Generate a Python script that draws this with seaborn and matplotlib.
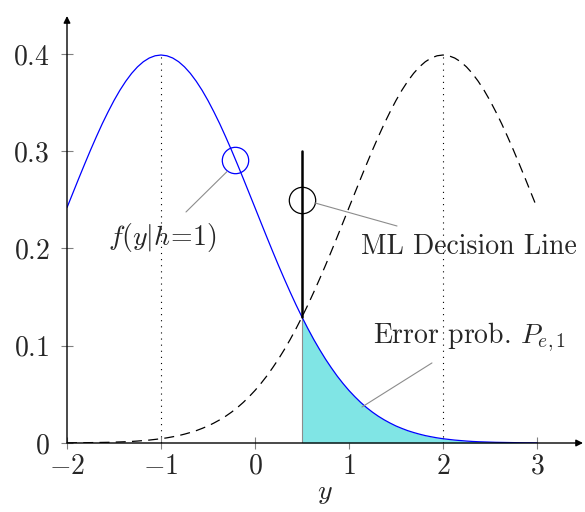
import numpy as np
import pandas as pd
import matplotlib
matplotlib.use("Agg")
import matplotlib.pyplot as plt
import seaborn as sns

# ---- data ----
y_grid = np.linspace(-2, 3, 81)
f_h1 = [0.2420, 0.2570, 0.2720, 0.2867, 0.3011, 0.3149, 0.3282, 0.3405, 0.3521,
        0.3626, 0.3719, 0.3800, 0.3867, 0.3920, 0.3958, 0.3981, 0.3989,
        0.3981, 0.3958, 0.3920, 0.3867, 0.3800, 0.3719, 0.3626, 0.3521,
        0.3405, 0.3282, 0.3149, 0.3011, 0.2867, 0.2720, 0.2570, 0.2420,
        0.2269, 0.2119, 0.1971, 0.1826, 0.1686, 0.1550, 0.1419, 0.1295,
        0.1177, 0.1065, 0.0961, 0.0863, 0.0773, 0.0688, 0.0611, 0.0540,
        0.0476, 0.0417, 0.0364, 0.0317, 0.0275, 0.0238, 0.0205, 0.0175,
        0.0150, 0.0127, 0.0108, 0.0091, 0.0076, 0.0064, 0.0053, 0.0044,
        0.0037, 0.0030, 0.0025, 0.0020, 0.0016, 0.0013, 0.0011, 0.0009,
        0.0007, 0.0006, 0.0005, 0.0004, 0.0003, 0.0002, 0.0002, 0.0001]
f_h2 = [0.0001, 0.0002, 0.0002, 0.0003, 0.0004, 0.0005, 0.0006, 0.0007,
        0.0009, 0.0011, 0.0013, 0.0016, 0.0020, 0.0025, 0.0030, 0.0037,
        0.0044, 0.0053, 0.0064, 0.0076, 0.0091, 0.0108, 0.0127, 0.0150,
        0.0175, 0.0205, 0.0238, 0.0275, 0.0317, 0.0364, 0.0417, 0.0476,
        0.0540, 0.0611, 0.0688, 0.0773, 0.0863, 0.0961, 0.1065, 0.1177,
        0.1295, 0.1419, 0.1550, 0.1686, 0.1826, 0.1971, 0.2119, 0.2269,
        0.2420, 0.2570, 0.2720, 0.2867, 0.3011, 0.3149, 0.3282, 0.3405,
        0.3521, 0.3626, 0.3719, 0.3800, 0.3867, 0.3920, 0.3958, 0.3981,
        0.3989, 0.3981, 0.3958, 0.3920, 0.3867, 0.3800, 0.3719, 0.3626,
        0.3521, 0.3405, 0.3282, 0.3149, 0.3011, 0.2867, 0.2720, 0.2570, 0.2420]
means = [-1, 2]
peak = 0.3989
threshold = 0.5
decision_top = 0.30
x_ticks = [-2, -1, 0, 1, 2, 3]
x_tick_labels = ["$-2$", "$-1$", "$0$", "$1$", "$2$", "$3$"]
y_ticks = [0, 0.1, 0.2, 0.3, 0.4]
y_tick_labels = ["$0$", "$0.1$", "$0.2$", "$0.3$", "$0.4$"]

df = pd.DataFrame({"y": y_grid, "f1": f_h1, "f2": f_h2})

sns.set_style("white")
plt.rcParams["font.family"] = ["cmr10", "DejaVu Serif"]
plt.rcParams["mathtext.fontset"] = "cm"
plt.rcParams["axes.unicode_minus"] = False
FS = 20

fig = plt.figure(figsize=(5.85, 5.12), dpi=100)
ax = fig.add_axes([67/585, 69/512, (583-67)/585, (443-16)/512])
ax.set_xlim(-2, 3.49)
ax.set_ylim(0, 0.439)

# fill
mask = df["y"] >= threshold - 1e-9
ax.fill_between(df["y"][mask], 0, df["f1"][mask], color="#80e5e5", lw=0, zorder=1)
ax.plot([threshold, threshold], [0, df["f1"][mask].iloc[0]], color="0.55", lw=0.8, zorder=2)

sns.lineplot(data=df, x="y", y="f1", ax=ax, color="blue", lw=0.9, zorder=3)
sns.lineplot(data=df, x="y", y="f2", ax=ax, color="black", lw=0.9,
             linestyle=(0, (8, 5)), zorder=3)

for m in means:
    ax.plot([m, m], [0, peak], color="black", lw=0.8, linestyle=(0, (1, 4.5)), zorder=2)

# decision line
ax.plot([threshold, threshold], [df["f1"][mask].iloc[0], decision_top],
        color="black", lw=1.8, zorder=4)

# circles
ax.plot([-0.213], [0.291], marker="o", ms=19, mfc="none", mec="blue", mew=0.9, zorder=5)
ax.plot([0.5], [0.25], marker="o", ms=19, mfc="none", mec="black", mew=0.9, zorder=5)

# annotation lines
ax.plot([-0.298, -0.734], [0.279, 0.2375], color="0.55", lw=0.8, zorder=5)
ax.plot([0.638, 1.511], [0.2468, 0.2231], color="0.55", lw=0.8, zorder=5)
ax.plot([1.883, 1.138], [0.0823, 0.037], color="0.55", lw=0.8, zorder=5)

ax.text(-0.989, 0.211, r"$f(y|h\!=\!1)$", fontsize=FS, ha="center", va="center")
ax.text(2.277, 0.2015, "ML Decision Line", fontsize=FS, ha="center", va="center")
ax.text(2.287, 0.109, r"Error prob. $P_{e,1}$", fontsize=FS, ha="center", va="center")

# axes
for s in ax.spines.values():
    s.set_visible(False)
ax.annotate("", xy=(1, 0), xytext=(0, 0), xycoords="axes fraction",
            arrowprops=dict(arrowstyle="-|>", lw=1.0, color="black",
                            shrinkA=0, shrinkB=0, mutation_scale=10))
ax.annotate("", xy=(0, 1), xytext=(0, 0), xycoords="axes fraction",
            arrowprops=dict(arrowstyle="-|>", lw=1.0, color="black",
                            shrinkA=0, shrinkB=0, mutation_scale=10))

ax.set_xticks(x_ticks)
ax.set_xticklabels(x_tick_labels, fontsize=FS)
ax.set_yticks(y_ticks)
ax.set_yticklabels(y_tick_labels, fontsize=FS)
ax.tick_params(direction="inout", length=9, width=0.8, color="0.5",
               bottom=True, left=True)
ax.tick_params(axis="x", pad=3)
ax.tick_params(axis="y", pad=8)
ax.set_xlabel("$y$", fontsize=FS, labelpad=0)
ax.set_ylabel("")

fig.savefig("out.png", dpi=100)
